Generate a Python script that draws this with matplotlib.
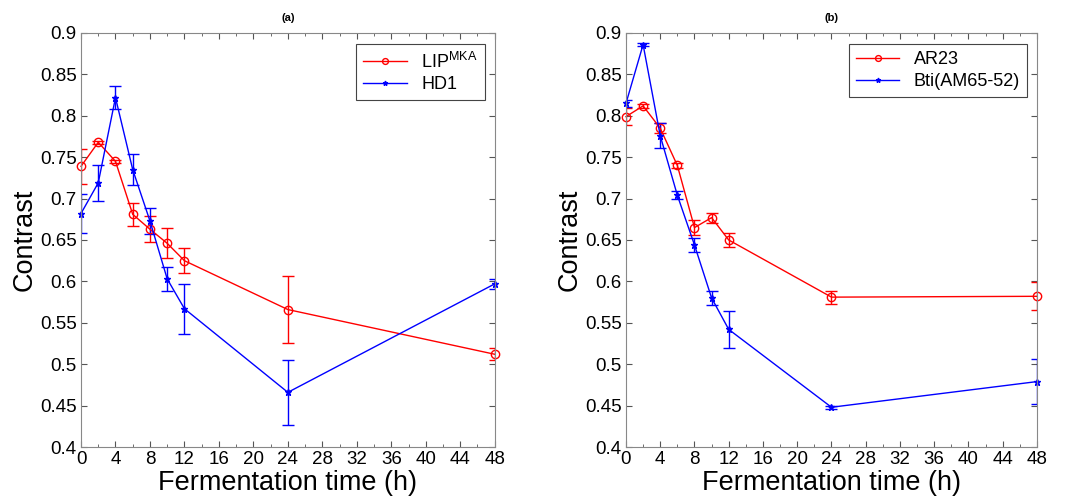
import matplotlib
matplotlib.use("Agg")
import matplotlib.pyplot as plt
from matplotlib.ticker import MultipleLocator

plt.rcParams['font.family'] = ['Liberation Sans', 'DejaVu Sans']
plt.rcParams['mathtext.fontset'] = 'custom'
plt.rcParams['mathtext.rm'] = 'Liberation Sans'
plt.rcParams['mathtext.it'] = 'Liberation Sans:italic'

hours = [0, 2, 4, 6, 8, 10, 12, 24, 48]

# panel (a)
lip_mean = [0.739, 0.768, 0.745, 0.681, 0.663, 0.646, 0.625, 0.566, 0.512]
lip_err = [0.021, 0.002, 0.002, 0.014, 0.016, 0.018, 0.015, 0.040, 0.007]
hd1_mean = [0.682, 0.719, 0.822, 0.735, 0.673, 0.603, 0.567, 0.466, 0.597]
hd1_err = [0.024, 0.022, 0.014, 0.019, 0.016, 0.014, 0.030, 0.039, 0.006]

# panel (b)
ar23_mean = [0.799, 0.812, 0.785, 0.740, 0.665, 0.677, 0.650, 0.581, 0.582]
ar23_err = [0.010, 0.002, 0.006, 0.003, 0.009, 0.006, 0.008, 0.008, 0.017]
bti_mean = [0.815, 0.886, 0.776, 0.704, 0.644, 0.580, 0.542, 0.448, 0.479]
bti_err = [0.004, 0.002, 0.015, 0.005, 0.008, 0.009, 0.022, 0.002, 0.027]

panels = [
    ("(a)", [("LIP$^{\\rm MKA}$", lip_mean, lip_err), ("HD1", hd1_mean, hd1_err)]),
    ("(b)", [("AR23", ar23_mean, ar23_err), ("Bti(AM65-52)", bti_mean, bti_err)]),
]
styles = [dict(color='#ff0000', marker='o', mfc='none', ms=6),
          dict(color='#0000ff', marker='*', ms=5)]

fig = plt.figure(figsize=(10.83, 5.0), dpi=100)
boxes = [[0.0748, 0.106, 0.382, 0.828], [0.578, 0.106, 0.3795, 0.828]]

for box, (title, series) in zip(boxes, panels):
    ax = fig.add_axes(box)
    handles, names = [], []
    for (name, mean, err), st in zip(series, styles):
        c = ax.errorbar(hours, mean, yerr=err, lw=1, capsize=4, elinewidth=1,
                        capthick=1, **st)
        c.lines[0].set_clip_on(False)
        handles.append(c.lines[0])
        names.append(name)
    ax.set_xlim(0, 48)
    ax.set_ylim(0.4, 0.9)
    ax.xaxis.set_major_locator(MultipleLocator(4))
    ax.xaxis.set_minor_locator(MultipleLocator(2))
    ax.yaxis.set_major_locator(MultipleLocator(0.05))
    ax.set_yticklabels([f"{v:g}" for v in ax.get_yticks()])
    ax.tick_params(which='both', direction='in', top=True, right=True,
                   labelsize=13.5, color='#555555', pad=3)
    ax.tick_params(which='major', length=4)
    ax.tick_params(which='minor', length=2)
    for s in ax.spines.values():
        s.set_color('#888888')
    ax.set_title(title, fontsize=8, fontweight='bold', pad=9)
    ax.set_xlabel("Fermentation time (h)", fontsize=19.5, labelpad=1)
    ax.set_ylabel("Contrast", fontsize=19.5, labelpad=2)
    leg = ax.legend(handles, names, loc='upper right', fontsize=13,
                    handlelength=2.4, markerscale=0.7,
                    fancybox=False, framealpha=1, borderpad=0.4,
                    labelspacing=0.25, borderaxespad=0,
                    bbox_to_anchor=(0.976, 0.973))
    leg.get_frame().set_edgecolor('#444444')
    leg.get_frame().set_linewidth(0.8)

fig.savefig("out.png", dpi=100)
